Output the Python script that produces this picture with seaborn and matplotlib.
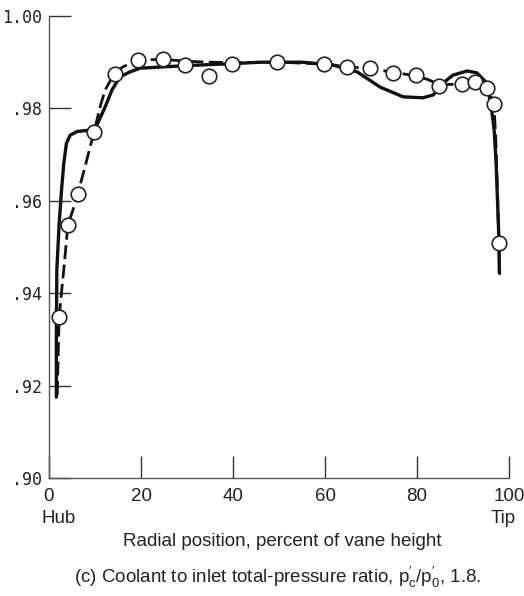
import matplotlib
matplotlib.use("Agg")
import matplotlib.pyplot as plt
import seaborn as sns
import pandas as pd

# Measured points (circles)
meas_x = [2.2, 4.1, 6.3, 9.8, 14.3, 19.3, 24.8, 29.6, 34.8, 39.8, 49.6, 59.8,
          64.8, 69.8, 74.8, 79.8, 84.8, 89.8, 92.6, 95.2, 96.7, 97.8]
meas_y = [0.9349, 0.9548, 0.9615, 0.9749, 0.9874, 0.9905, 0.9907, 0.9894,
          0.9870, 0.9896, 0.9900, 0.9896, 0.9890, 0.9887, 0.9877, 0.9872,
          0.9849, 0.9853, 0.9857, 0.9845, 0.9810, 0.9508]

# Faired curve through the measurements (dashed)
dash_x = [1.8, 2.0, 2.2, 2.7, 3.3, 4.1, 5.2, 6.3, 8.0, 9.8, 11.1, 12.2, 14.3,
          16.1, 19.3, 25, 30, 35, 40, 50, 60, 65, 70, 75, 80, 82.5, 85, 87.5,
          90, 92.6, 95.2, 96.7, 97.1, 97.5, 97.8, 98.0]
dash_y = [0.918, 0.927, 0.9346, 0.940, 0.946, 0.9548, 0.958, 0.9617, 0.968,
          0.975, 0.9803, 0.984, 0.9877, 0.989, 0.9905, 0.9906, 0.9902, 0.9900,
          0.9899, 0.9900, 0.9896, 0.9890, 0.9886, 0.9878, 0.9870, 0.9862,
          0.9851, 0.9852, 0.9855, 0.9857, 0.9846, 0.9810, 0.974, 0.962,
          0.9508, 0.944]

# Comparison curve (solid)
solid_x = [1.6, 1.6, 1.7, 2.2, 2.7, 3.2, 3.8, 4.6, 6.1, 8.9, 10.4, 12.2, 13.7,
           15.4, 17.6, 19.8, 25, 33, 40, 46, 55, 61.7, 67, 72, 77, 81.3, 83.5,
           85.7, 87.8, 90.9, 93, 95.2, 96.2, 96.8, 97.2, 97.5, 97.8, 97.9]
solid_y = [0.9175, 0.930, 0.945, 0.955, 0.962, 0.968, 0.9725, 0.9742, 0.975,
           0.9753, 0.9764, 0.9803, 0.984, 0.9868, 0.9879, 0.9887, 0.9890,
           0.9894, 0.9897, 0.9900, 0.9900, 0.9894, 0.9879, 0.9846, 0.9825,
           0.9823, 0.9829, 0.9855, 0.9872, 0.9881, 0.9877, 0.9855, 0.980,
           0.975, 0.968, 0.960, 0.952, 0.9444]

x_ticks = [0, 20, 40, 60, 80, 100]
y_ticks = [0.90, 0.92, 0.94, 0.96, 0.98, 1.00]
y_tick_labels = [".90", ".92", ".94", ".96", ".98", "1.00"]

sns.set_theme(style="white")
plt.rcParams["font.family"] = ["Liberation Sans", "DejaVu Sans"]
plt.rcParams["mathtext.fontset"] = "custom"
plt.rcParams["mathtext.rm"] = "Liberation Sans"
plt.rcParams["mathtext.it"] = "Liberation Sans"

W, H = 524, 596
fig = plt.figure(figsize=(W / 100, H / 100), dpi=100)
ax = fig.add_axes([49 / W, 1 - 478 / H, 460 / W, 462 / H])

solid_df = pd.DataFrame({"x": solid_x, "y": solid_y})
dash_df = pd.DataFrame({"x": dash_x, "y": dash_y})
meas_df = pd.DataFrame({"x": meas_x, "y": meas_y})

sns.lineplot(data=solid_df, x="x", y="y", ax=ax, color="#111111", lw=2.4,
             estimator=None, sort=False, zorder=2)
sns.lineplot(data=dash_df, x="x", y="y", ax=ax, color="#111111", lw=2.0,
             estimator=None, sort=False, zorder=2)
ax.lines[-1].set_dashes((5, 2))
sns.scatterplot(data=meas_df, x="x", y="y", ax=ax, s=110, marker="o",
                facecolor="white", edgecolor="#222222", linewidth=1.2,
                zorder=3)

ax.set_xlim(0, 100)
ax.set_ylim(0.90, 1.00)
ax.set_xticks(x_ticks)
ax.set_yticks(y_ticks)
ax.set_yticklabels(y_tick_labels, family="DejaVu Sans Mono", fontsize=12)
ax.tick_params(axis="both", which="major", bottom=True, left=True,
               direction="in", length=16, width=1.0, color="#333333",
               labelcolor="#222222")
ax.tick_params(axis="x", pad=7, labelsize=13.5)
ax.tick_params(axis="y", pad=5)
ax.set_xlabel("")
ax.set_ylabel("")
for side in ("top", "right"):
    ax.spines[side].set_visible(False)
for side in ("left", "bottom"):
    ax.spines[side].set_color("#555555")
    ax.spines[side].set_linewidth(1.0)
ax.set_facecolor("white")

ax.annotate("Hub", xy=(2, 0), xycoords=("data", "axes fraction"),
            xytext=(0, -29), textcoords="offset points", ha="center",
            va="center", fontsize=13.5, color="#222222")
ax.annotate("Tip", xy=(98.7, 0), xycoords=("data", "axes fraction"),
            xytext=(0, -29), textcoords="offset points", ha="center",
            va="center", fontsize=13.5, color="#222222")

fig.text(282 / W, 1 - 542 / H, "Radial position, percent of vane height",
         ha="center", va="center", fontsize=13.5, color="#222222")
fig.text(278 / W, 1 - 577 / H,
         r"(c) Coolant to inlet total-pressure ratio, $\mathrm{p_c'/p_0'}$, 1.8.",
         ha="center", va="center", fontsize=13.5, color="#222222")

fig.savefig("out.png", dpi=100, facecolor="white")
